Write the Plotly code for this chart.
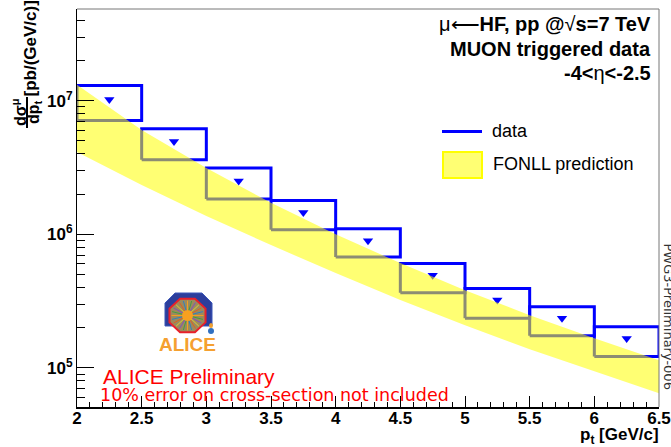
import math
import plotly.graph_objects as go

# ---------------- data ----------------
bin_lo = [2.0, 2.5, 3.0, 3.5, 4.0, 4.5, 5.0, 5.5, 6.0]
bin_hi = [2.5, 3.0, 3.5, 4.0, 4.5, 5.0, 5.5, 6.0, 6.5]
data_val = [1.02e7, 4.95e6, 2.51e6, 1.46e6, 8.95e5, 4.95e5, 3.22e5, 2.35e5, 1.66e5]
sys_hi = [1.30e7, 6.16e6, 3.14e6, 1.79e6, 1.10e6, 6.06e5, 3.94e5, 2.87e5, 2.03e5]
sys_lo = [7.11e6, 3.61e6, 1.84e6, 1.08e6, 6.76e5, 3.65e5, 2.35e5, 1.74e5, 1.22e5]

fonll_pt = [2.0, 2.5, 3.0, 3.5, 4.0, 4.5, 5.0, 5.5, 6.0, 6.5]
fonll_hi = [1.32e7, 6.05e6, 3.14e6, 1.72e6, 1.00e6, 6.09e5, 3.82e5, 2.48e5, 1.67e5, 1.14e5]
fonll_lo = [4.14e6, 2.34e6, 1.37e6, 8.31e5, 5.13e5, 3.22e5, 2.09e5, 1.38e5, 9.45e4, 6.46e4]

x_ticks = [2, 2.5, 3, 3.5, 4, 4.5, 5, 5.5, 6, 6.5]
x_ticklabels = ["2", "2.5", "3", "3.5", "4", "4.5", "5", "5.5", "6", "6.5"]
y_ticks = [1e5, 1e6, 1e7]
y_ticklabels = ["10<sup>5</sup>", "10<sup>6</sup>", "10<sup>7</sup>"]

# ---------------- geometry helpers ----------------
W, H = 671, 447
L, R, T, B = 77, 12, 9, 40
PW, PH = W - L - R, H - T - B


def xp(px):
    return (px - L) / PW


def yp(py):
    return (H - B - py) / PH


BLUE = "#0000ff"
BAND = "rgba(255,255,0,0.55)"

fig = go.Figure()

# data boxes (systematics)
bx, by = [], []
for a, b, lo, hi in zip(bin_lo, bin_hi, sys_lo, sys_hi):
    bx += [a, b, b, a, a, None]
    by += [lo, lo, hi, hi, lo, None]
fig.add_trace(go.Scatter(x=bx, y=by, mode="lines", line=dict(color=BLUE, width=3),
                         name="data", showlegend=False, hoverinfo="skip"))

# data points
centers = [(a + b) / 2 for a, b in zip(bin_lo, bin_hi)]
fig.add_trace(go.Scatter(x=centers, y=data_val, mode="markers",
                         marker=dict(symbol="triangle-down", size=9, color=BLUE),
                         showlegend=False))

# FONLL band (drawn on top)
fig.add_trace(go.Scatter(x=fonll_pt + fonll_pt[::-1], y=fonll_hi + fonll_lo[::-1],
                         fill="toself", fillcolor=BAND, mode="lines", line=dict(width=0),
                         name="FONLL prediction", showlegend=False, hoverinfo="skip"))

minor_y = [m * 10 ** e for e in range(4, 8) for m in range(2, 10)]

fig.update_layout(
    width=W, height=H,
    margin=dict(l=L, r=R, t=T, b=B, autoexpand=False),
    paper_bgcolor="white", plot_bgcolor="white",
    showlegend=False,
    font=dict(family="Liberation Sans", color="black"),
    xaxis=dict(range=[2, 6.5], tickmode="array", tickvals=x_ticks, ticktext=x_ticklabels,
               ticks="inside", ticklen=11, tickwidth=1, tickcolor="black",
               tickfont=dict(family="Liberation Sans", size=17, weight="bold", color="black"),
               ticklabelstandoff=-5,
               minor=dict(ticks="inside", ticklen=5, dtick=0.1, tick0=2, tickcolor="black", showgrid=False),
               showline=True, linecolor="black", linewidth=2, showgrid=False, zeroline=False,
               automargin=False),
    yaxis=dict(type="log", range=[4.7076, 7.6867], tickmode="array", tickvals=y_ticks,
               ticktext=y_ticklabels, ticks="inside", ticklen=17, tickwidth=1, tickcolor="black",
               tickfont=dict(family="Liberation Sans", size=17, weight="bold", color="black"),
               minor=dict(ticks="inside", ticklen=8, tickmode="array", tickvals=minor_y,
                          tickcolor="black", showgrid=False),
               showline=True, linecolor="black", linewidth=1, showgrid=False, zeroline=False,
               automargin=False),
)

shapes = []
# gray frame top / right
shapes.append(dict(type="line", xref="paper", yref="paper", x0=0, x1=1, y0=1, y1=1,
                   line=dict(color="#777777", width=1)))
shapes.append(dict(type="line", xref="paper", yref="paper", x0=1, x1=1, y0=0, y1=1,
                   line=dict(color="#777777", width=1)))

# legend samples
shapes.append(dict(type="line", xref="paper", yref="paper", x0=xp(442), x1=xp(482),
                   y0=yp(131.5), y1=yp(131.5), line=dict(color=BLUE, width=3)))
shapes.append(dict(type="rect", xref="paper", yref="paper", x0=xp(443), x1=xp(482),
                   y0=yp(178), y1=yp(152), fillcolor=BAND, line=dict(color="#ffff00", width=2)))

# y-title fraction bar
shapes.append(dict(type="line", xref="paper", yref="paper", x0=xp(27), x1=xp(27),
                   y0=yp(97), y1=yp(128), line=dict(color="black", width=2)))


# ALICE logo (simplified)
def path(points):
    return "M " + " L ".join(f"{xp(x):.5f},{yp(y):.5f}" for x, y in points) + " Z"


shapes.append(dict(type="path", xref="paper", yref="paper",
                   path=path([(165, 326), (165, 303), (175, 293), (202, 293), (212, 303), (212, 326)]),
                   fillcolor="#2c3e9c", line=dict(color="#3a56b8", width=1)))
cx, cy, rx, ry = 187.5, 315.5, 19.5, 18.0
octo = [(cx + rx * math.cos(math.radians(22.5 + 45 * k)), cy + ry * math.sin(math.radians(22.5 + 45 * k)))
        for k in range(8)]
shapes.append(dict(type="path", xref="paper", yref="paper", path=path(octo),
                   fillcolor="#9c8a5c", line=dict(color="#e8202a", width=2)))
ray_cols = ["#f0a020", "#40a040", "#8050c0", "#e0d030", "#e06020", "#3080c0"]
for k in range(24):
    ang = math.radians(k * 15)
    shapes.append(dict(type="line", xref="paper", yref="paper",
                       x0=xp(cx), y0=yp(cy),
                       x1=xp(cx + 16 * math.cos(ang)), y1=yp(cy + 15 * math.sin(ang)),
                       line=dict(color=ray_cols[k % len(ray_cols)], width=1)))
shapes.append(dict(type="circle", xref="paper", yref="paper", x0=xp(182), x1=xp(193),
                   y0=yp(321), y1=yp(310), fillcolor="#f8a020", line=dict(width=0)))
shapes.append(dict(type="circle", xref="paper", yref="paper", x0=xp(209), x1=xp(213),
                   y0=yp(328), y1=yp(323), fillcolor="#f0a030", line=dict(width=0)))
shapes.append(dict(type="circle", xref="paper", yref="paper", x0=xp(208), x1=xp(214),
                   y0=yp(334), y1=yp(328), fillcolor="#3070c0", line=dict(width=0)))

fig.update_layout(shapes=shapes)

ann = []


def add_text(text, x, y, size, color="black", family="Liberation Sans", xanchor="center",
             yanchor="middle", angle=0):
    ann.append(dict(text=text, x=xp(x), y=yp(y), xref="paper", yref="paper", showarrow=False,
                    xanchor=xanchor, yanchor=yanchor, textangle=angle,
                    font=dict(family=family, size=size, color=color)))


# top-right labels
add_text("μ⟵<b>HF, pp @</b>√<b>s=7 TeV</b>", 653, 24, 20, xanchor="right")
add_text("<b>MUON triggered data</b>", 653, 49, 20, xanchor="right")
add_text("<b>-4&lt;</b>η<b>&lt;-2.5</b>", 653, 73, 20, xanchor="right")

# legend texts
add_text("data", 490, 131, 18, xanchor="left")
add_text("FONLL prediction", 491, 164, 18, xanchor="left")

# ALICE preliminary
add_text("<b>ALICE</b>", 187.5, 344, 19, color="#f5a030", xanchor="center")
add_text("ALICE Preliminary", 101, 376, 21, color="#ff0000", xanchor="left")
add_text("10% error on cross-section not included", 98, 395, 17.5, color="#ff0000",
         family="DejaVu Sans", xanchor="left")

# axis titles
add_text("<b>p<sub>t</sub> [GeV/c]</b>", 661, 436, 17, xanchor="right")
add_text("<b>[pb/(GeV/c)]</b>", 29.5, 49, 17, angle=-90)
add_text("<b>dσ<sup>μ</sup></b>", 19, 112, 16, angle=-90)
add_text("<b>dp<sub>t</sub></b>", 35, 112, 16, angle=-90)

# side stamp
add_text("PWG3-Preliminary-006", 668.5, 316, 13, color="#333333", family="DejaVu Sans", angle=90)

fig.update_layout(annotations=ann)

fig.write_html("out.html", config={"displayModeBar": False},
               post_script="document.body.style.margin='0';document.body.style.overflow='hidden';")
